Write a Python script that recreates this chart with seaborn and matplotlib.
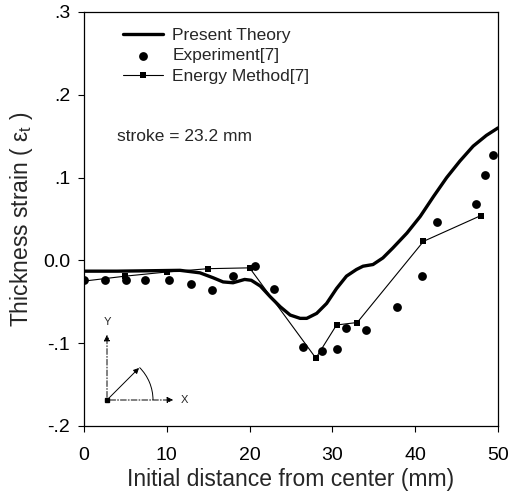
import numpy as np
import matplotlib
matplotlib.use('Agg')
import matplotlib.pyplot as plt
from matplotlib.patches import Arc
import pandas as pd
import seaborn as sns

##------------------------------------------------------------------------------
## Data
##------------------------------------------------------------------------------
theory_x = [0, 4, 8, 11.6, 14.0, 15.6, 16.8, 18.0, 19.4, 20.2, 21.3, 22.5,
            23.7, 24.9, 26.1, 26.9, 28.1, 29.3, 30.5, 31.7, 32.9, 33.7, 34.9,
            36.1, 37.3, 39.0, 40.6, 42.2, 43.8, 45.4, 47.0, 48.6, 50]
theory_y = [-0.013, -0.013, -0.0125, -0.012, -0.015, -0.021, -0.026, -0.027,
            -0.023, -0.024, -0.031, -0.044, -0.056, -0.066, -0.070, -0.070,
            -0.064, -0.052, -0.034, -0.019, -0.011, -0.007, -0.005, 0.003,
            0.015, 0.033, 0.053, 0.077, 0.100, 0.120, 0.138, 0.151, 0.160]

exp_x = [0, 2.5, 5.1, 7.4, 10.3, 12.9, 15.5, 18.0, 20.6, 22.9, 26.5, 28.7,
         30.5, 31.6, 34.1, 37.8, 40.8, 42.6, 47.3, 48.4, 49.4]
exp_y = [-0.024, -0.024, -0.024, -0.024, -0.024, -0.028, -0.036, -0.019,
         -0.007, -0.035, -0.105, -0.109, -0.107, -0.082, -0.084, -0.056,
         -0.019, 0.046, 0.068, 0.103, 0.127]

energy_x = [0, 5, 10, 15, 20, 28, 30.5, 33, 41, 47.9]
energy_y = [-0.025, -0.019, -0.014, -0.010, -0.009, -0.118, -0.078, -0.075,
            0.023, 0.054]

y_ticks  = [-0.2, -0.1, 0.0, 0.1, 0.2, 0.3]
y_labels = ['-.2', '-.1', '0.0', '.1', '.2', '.3']
x_ticks  = [0, 10, 20, 30, 40, 50]

theory = pd.DataFrame({'x': theory_x, 'y': theory_y})
exper  = pd.DataFrame({'x': exp_x, 'y': exp_y})
energy = pd.DataFrame({'x': energy_x, 'y': energy_y})

##------------------------------------------------------------------------------
## Plot
##------------------------------------------------------------------------------
sns.set_theme(style = 'ticks')
plt.rcParams['font.family'] = ['Liberation Sans', 'DejaVu Sans']
plt.rcParams['mathtext.fontset'] = 'custom'
plt.rcParams['mathtext.rm'] = 'Liberation Sans'
plt.rcParams['mathtext.it'] = 'Liberation Sans'

fig = plt.figure(figsize = (5.18, 4.95), dpi = 100)
ax = fig.add_axes([84/518, 1 - 426/495, 414/518, 414/495])

sns.lineplot(data = theory, x = 'x', y = 'y', ax = ax, color = 'black',
             linewidth = 2.4, label = 'Present Theory', sort = False,
             solid_joinstyle = 'round', solid_capstyle = 'round')
sns.scatterplot(data = exper, x = 'x', y = 'y', ax = ax, color = 'black',
                s = 40, edgecolor = 'black', linewidth = 0,
                label = 'Experiment[7]', zorder = 4)
sns.lineplot(data = energy, x = 'x', y = 'y', ax = ax, color = 'black',
             linewidth = 0.8, marker = 's', markersize = 5, markeredgewidth = 0,
             label = 'Energy Method[7]', sort = False)

ax.set_xlim(0, 50)
ax.set_ylim(-0.2, 0.3)
ax.set_xticks(x_ticks)
ax.set_yticks(y_ticks)
ax.set_yticklabels(y_labels)
ax.tick_params(direction = 'out', length = 4, width = 0.8, labelsize = 14,
               colors = 'black')
ax.tick_params(axis = 'x', pad = 11)
ax.tick_params(axis = 'y', pad = 6)
for sp in ax.spines.values():
    sp.set_visible(True)
    sp.set_color('black')
    sp.set_linewidth(0.9)

ax.set_xlabel('Initial distance from center (mm)', fontsize = 16.5, labelpad = 3)
ax.set_ylabel(r'Thickness strain ( $\varepsilon_t$ )', fontsize = 16.5,
              labelpad = 6)

ax.text(4.0, 0.15, 'stroke = 23.2 mm', fontsize = 12.5, va = 'center',
        ha = 'left')

ax.legend(loc = 'upper left', bbox_to_anchor = (0.094, 0.962), frameon = False,
          fontsize = 12.5, handlelength = 2.3, handletextpad = 0.55,
          labelspacing = 0.3, borderpad = 0, borderaxespad = 0)

## small coordinate sketch (X, Y, angle)
ins = fig.add_axes([100/518, 1 - 410/495, 95/518, 90/495])
ins.set_xlim(0, 95)
ins.set_ylim(0, 90)
ins.axis('off')
ox, oy = 7, 10
ins.annotate('', xy = (76, oy), xytext = (ox, oy),
             arrowprops = dict(arrowstyle = '-|>', color = 'black', lw = 0.7,
                               linestyle = (0, (6, 2, 1, 2)), mutation_scale = 9))
ins.annotate('', xy = (ox, 78), xytext = (ox, oy),
             arrowprops = dict(arrowstyle = '-|>', color = 'black', lw = 0.7,
                               linestyle = (0, (6, 2, 1, 2)), mutation_scale = 9))
ins.annotate('', xy = (41, 44), xytext = (ox, oy),
             arrowprops = dict(arrowstyle = '-|>', color = 'black', lw = 0.7,
                               mutation_scale = 8))
ins.plot([ox], [oy], 's', color = 'black', markersize = 2.5)
ins.add_patch(Arc((ox, oy), 92, 92, theta1 = 0, theta2 = 45, color = 'black',
                  lw = 0.7))
ins.text(81, oy, 'X', fontsize = 8, va = 'center', ha = 'left')
ins.text(ox, 83, 'Y', fontsize = 8, va = 'bottom', ha = 'center')

fig.savefig('out.png', dpi = 100)
